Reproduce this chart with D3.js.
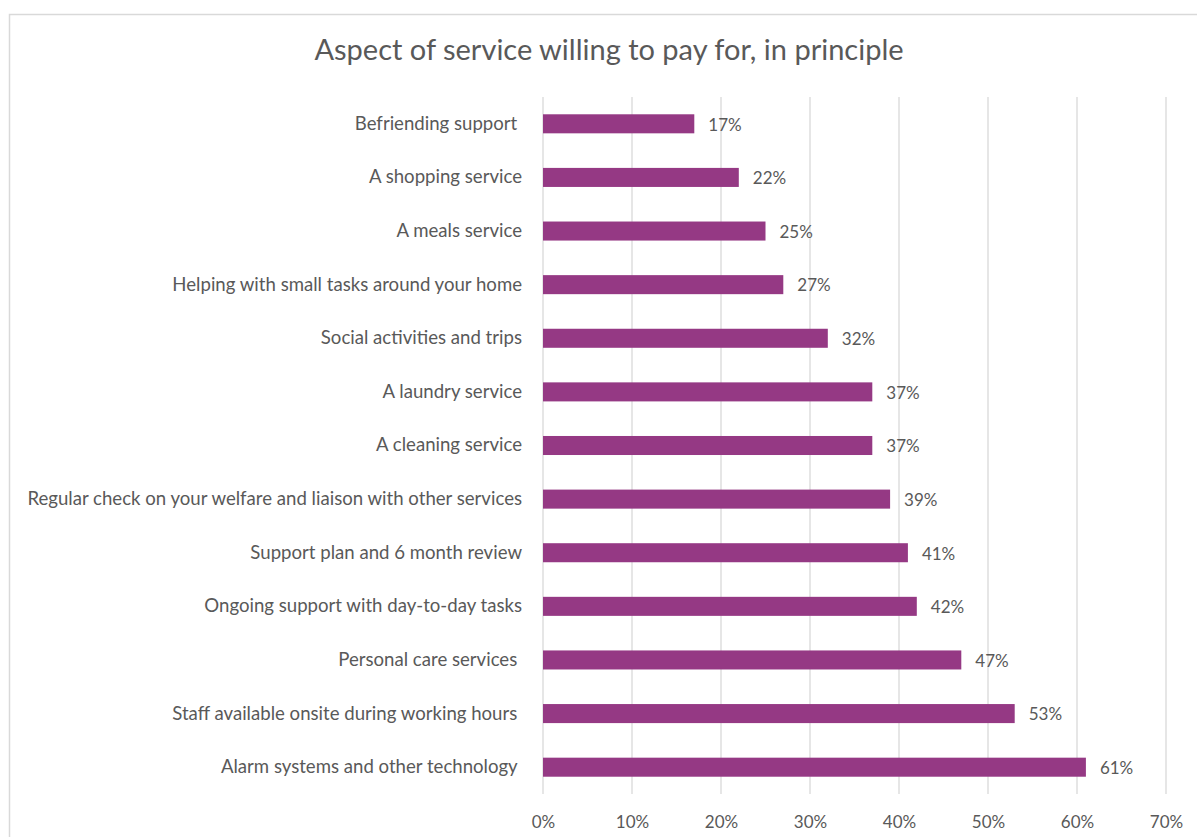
<!DOCTYPE html>
<html>
<head>
<meta charset="utf-8">
<script src="https://cdn.jsdelivr.net/npm/d3@7"></script>
<style>
  html, body { margin: 0; padding: 0; background: #fff; }
  svg text { font-family: Lato, "Open Sans", sans-serif; fill: #595959; }
</style>
</head>
<body>
<svg id="chart" width="1197" height="837"></svg>
<script>
// Share of respondents willing to pay for each aspect of service
const categories = [
  "Befriending support ",
  "A shopping service",
  "A meals service",
  "Helping with small tasks around your home",
  "Social activities and trips",
  "A laundry service",
  "A cleaning service",
  "Regular check on your welfare and liaison with other services",
  "Support plan and 6 month review",
  "Ongoing support with day-to-day tasks",
  "Personal care services ",
  "Staff available onsite during working hours ",
  "Alarm systems and other technology "
];
const values = [17, 22, 25, 27, 32, 37, 37, 39, 41, 42, 47, 53, 61];
const tickValues = [0, 10, 20, 30, 40, 50, 60, 70];
const title = "Aspect of service willing to pay for, in principle";

const svg = d3.select("#chart");

// chart frame
svg.append("rect")
  .attr("x", 9.5).attr("y", 14.5)
  .attr("width", 1200).attr("height", 840)
  .attr("fill", "#fff").attr("stroke", "#d9d9d9").attr("stroke-width", 1.5);

svg.append("text")
  .attr("x", 609).attr("y", 60)
  .attr("text-anchor", "middle")
  .style("font-size", "29px")
  .text(title);

const x = d3.scaleLinear().domain([0, 70]).range([543, 1166]);
const y = d3.scaleBand().domain(categories).range([97, 794])
  .paddingInner(0.645).paddingOuter(0.3225);

// vertical gridlines
svg.append("g").selectAll("line").data(tickValues).join("line")
  .attr("x1", d => x(d)).attr("x2", d => x(d))
  .attr("y1", 97).attr("y2", 794)
  .attr("stroke", "#d9d9d9").attr("stroke-width", 1.3);

// x axis tick labels
const xAxis = d3.axisBottom(x).tickValues(tickValues)
  .tickFormat(d => d + "%").tickSize(0).tickPadding(0);
const gx = svg.append("g").attr("transform", "translate(0,828)").call(xAxis);
gx.select(".domain").remove();
gx.selectAll("text").attr("dy", 0).style("font-size", "17px").attr("fill", "#595959");

// bars
svg.append("g").selectAll("rect").data(values).join("rect")
  .attr("x", x(0))
  .attr("y", (d, i) => y(categories[i]))
  .attr("width", d => x(d) - x(0))
  .attr("height", y.bandwidth())
  .attr("fill", "#953984");

// value labels
svg.append("g").selectAll("text").data(values).join("text")
  .attr("x", d => x(d) + 14)
  .attr("y", (d, i) => y(categories[i]) + y.bandwidth() / 2)
  .attr("dy", "0.4em")
  .style("font-size", "17px")
  .text(d => d + "%");

// category labels
const yAxis = d3.axisLeft(y).tickSize(0).tickPadding(0);
const gy = svg.append("g").attr("transform", "translate(522,0)").call(yAxis);
gy.select(".domain").remove();
gy.selectAll("text")
  .style("font-size", "18.6px")
  .style("white-space", "pre")
  .attr("fill", "#595959");
</script>
</body>
</html>
